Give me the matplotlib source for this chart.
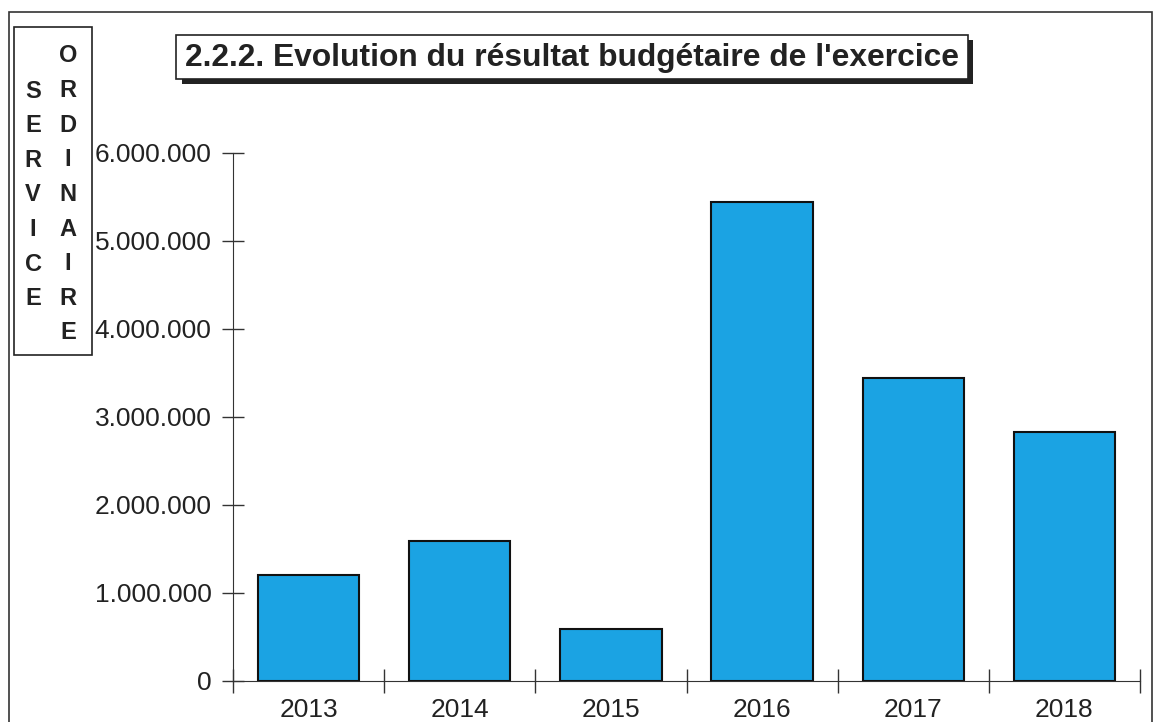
import matplotlib.pyplot as plt
from matplotlib.patches import Rectangle
from matplotlib.ticker import FuncFormatter

years = ["2013", "2014", "2015", "2016", "2017", "2018"]
result = [1210000, 1590000, 590000, 5440000, 3440000, 2830000]
y_ticks = [0, 1000000, 2000000, 3000000, 4000000, 5000000, 6000000]

W, H = 1160, 722
fig = plt.figure(figsize=(W / 100, H / 100), dpi=100)
plt.rcParams["font.family"] = ["Liberation Sans", "DejaVu Sans"]


def px(x0, y0, x1, y1):
    # pixel box (top-left origin) -> figure fraction rect
    return (x0 / W, 1 - y1 / H, (x1 - x0) / W, (y1 - y0) / H)


# outer frame
fx, fy, fw, fh = px(9, 12, 1152, 740)
fig.patches.append(Rectangle((fx, fy), fw, fh, transform=fig.transFigure,
                             fill=False, edgecolor="#333333", linewidth=1.2))

# side box "SERVICE ORDINAIRE"
bx, by, bw, bh = px(14, 27, 92, 355)
fig.patches.append(Rectangle((bx, by), bw, bh, transform=fig.transFigure,
                             fill=False, edgecolor="#222222", linewidth=1.2))
for i, ch in enumerate("SERVICE"):
    fig.text(33 / W, 1 - (91 + i * 34.6) / H, ch, ha="center", va="center",
             fontsize=17, fontweight="bold", color="#222222")
for i, ch in enumerate("ORDINAIRE"):
    fig.text(68 / W, 1 - (56 + i * 34.6) / H, ch, ha="center", va="center",
             fontsize=17, fontweight="bold", color="#222222")

# title box with shadow
sx, sy, sw, sh = px(182, 40, 973, 84)
fig.patches.append(Rectangle((sx, sy), sw, sh, transform=fig.transFigure,
                             facecolor="#222222", edgecolor="none"))
tx, ty, tw, th = px(176, 35, 968, 79)
fig.patches.append(Rectangle((tx, ty), tw, th, transform=fig.transFigure,
                             facecolor="white", edgecolor="#222222", linewidth=1.2))
fig.text(572 / W, 1 - 58 / H, "2.2.2. Evolution du résultat budgétaire de l'exercice",
         ha="center", va="center", fontsize=22.9, fontweight="bold", color="#222222")

# chart
ax = fig.add_axes(px(233, 153, 1140, 681))
x = range(len(years))
ax.bar(x, result, width=0.67, color="#1ba3e3", edgecolor="#111111", linewidth=1.5)
ax.set_xlim(-0.5, len(years) - 0.5)
ax.set_ylim(0, 6000000)
ax.set_yticks(y_ticks)
ax.yaxis.set_major_formatter(FuncFormatter(lambda v, p: f"{int(v):,}".replace(",", ".")))
ax.set_xticks([i + 0.5 for i in range(-1, len(years))])
ax.set_xticklabels([])
ax.set_xticks(list(x), minor=True)
ax.set_xticklabels(years, minor=True)
ax.tick_params(axis="x", which="minor", length=0, pad=12, labelsize=19)
ax.tick_params(axis="x", which="major", direction="inout", length=17, width=1, color="#333333")
ax.tick_params(axis="y", direction="inout", length=16, width=1, color="#333333",
               labelsize=19, pad=7.5)
for side in ["top", "right"]:
    ax.spines[side].set_visible(False)
for side in ["left", "bottom"]:
    ax.spines[side].set_color("#333333")
ax.set_facecolor("none")
for lbl in ax.get_yticklabels() + ax.get_xticklabels(minor=True):
    lbl.set_color("#222222")

fig.savefig("out.png", dpi=100)
